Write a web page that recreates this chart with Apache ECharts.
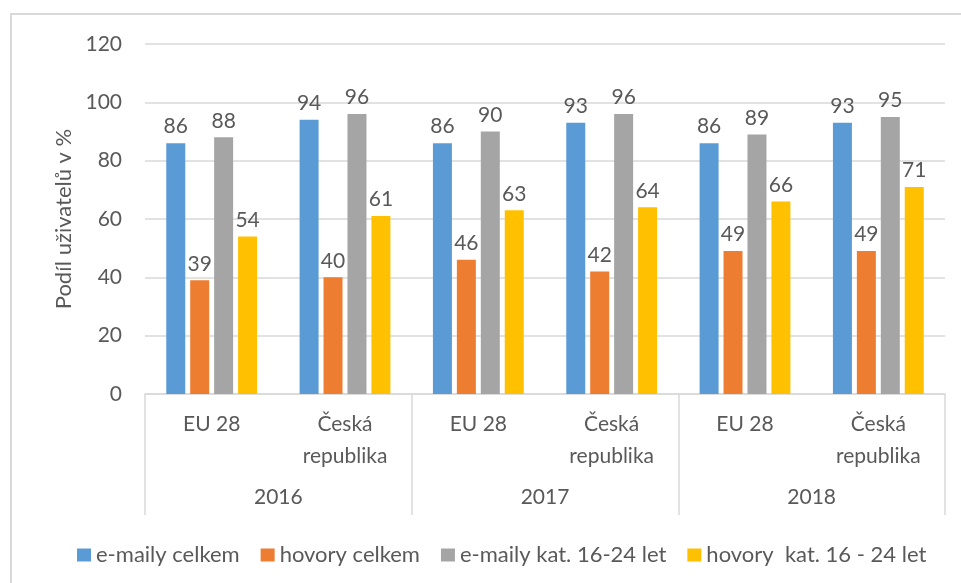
<!DOCTYPE html>
<html>
<head>
<meta charset="utf-8">
<script src="https://cdn.jsdelivr.net/npm/echarts@6/dist/echarts.min.js"></script>
<style>
  html, body { margin: 0; padding: 0; background: #fff; }
  #chart { width: 961px; height: 583px; }
</style>
</head>
<body>
<div id="chart"></div>
<script>
// kategorie a hodnoty (v %)
const regions = ['EU 28', 'Česká\nrepublika', 'EU 28', 'Česká\nrepublika', 'EU 28', 'Česká\nrepublika'];
const years = ['2016', '2017', '2018'];
const seriesNames = ['e-maily celkem', 'hovory celkem', 'e-maily kat. 16-24 let', 'hovory  kat. 16 - 24 let'];
const emailyCelkem = [86, 94, 86, 93, 86, 93];
const hovoryCelkem = [39, 40, 46, 42, 49, 49];
const emailyMladi = [88, 96, 90, 96, 89, 95];
const hovoryMladi = [54, 61, 63, 64, 66, 71];
const yTicks = { min: 0, max: 120, interval: 20 };

const colors = ['#5b9bd5', '#ed7d31', '#a5a5a5', '#ffc000'];
const font = 'Lato, "Liberation Sans", sans-serif';
const textColor = '#595959';
const lineColor = '#d9d9d9';

const values = [emailyCelkem, hovoryCelkem, emailyMladi, hovoryMladi];

const dom = echarts.init(document.getElementById('chart'));
const option = {
  animation: false,
  color: colors,
  textStyle: { fontFamily: font },
  graphic: [{
    type: 'rect',
    shape: { x: 11, y: 14, width: 1000, height: 1000 },
    style: { fill: 'none', stroke: lineColor, lineWidth: 2 }
  }],
  grid: { left: 145, right: 16, top: 44, bottom: 189 },
  legend: {
    left: 72,
    top: 539,
    itemWidth: 14,
    itemHeight: 13,
    itemGap: 21,
    icon: 'rect',
    textStyle: { color: textColor, fontSize: 22, fontFamily: font },
    data: seriesNames
  },
  xAxis: [
    {
      type: 'category',
      data: regions,
      axisLine: { lineStyle: { color: lineColor, width: 1.5 } },
      axisTick: { show: false },
      axisLabel: {
        interval: 0,
        color: textColor,
        fontSize: 21,
        lineHeight: 32,
        margin: 14,
        verticalAlign: 'top'
      }
    },
    {
      type: 'category',
      data: years,
      position: 'bottom',
      axisLine: { show: false },
      axisTick: { show: true, length: 121, interval: 0, lineStyle: { color: lineColor, width: 1.5 } },
      axisLabel: { color: textColor, fontSize: 21, margin: 93, verticalAlign: 'top' }
    }
  ],
  yAxis: {
    type: 'value',
    min: yTicks.min,
    max: yTicks.max,
    interval: yTicks.interval,
    name: 'Podíl uživatelů v %',
    nameLocation: 'middle',
    nameGap: 70,
    nameTextStyle: { color: textColor, fontSize: 22, fontFamily: font },
    axisLine: { show: false },
    axisTick: { show: false },
    axisLabel: { color: textColor, fontSize: 21, margin: 23 },
    splitLine: { lineStyle: { color: lineColor, width: 1.5 } }
  },
  series: seriesNames.map((name, i) => ({
    name: name,
    type: 'bar',
    xAxisIndex: 0,
    data: values[i],
    barWidth: 19,
    barGap: '26%',
    label: {
      show: true,
      position: 'top',
      distance: 6,
      color: textColor,
      fontSize: 21,
      fontFamily: font
    }
  }))
};
dom.setOption(option);
</script>
</body>
</html>
